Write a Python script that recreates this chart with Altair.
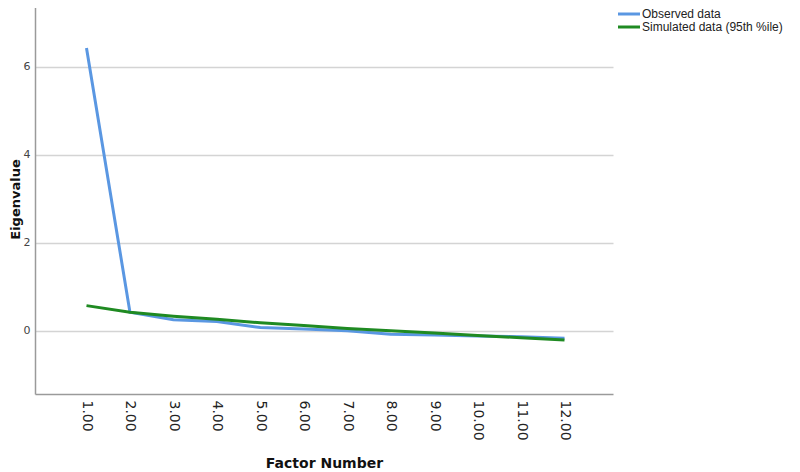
import altair as alt
import pandas as pd

factors = [1, 2, 3, 4, 5, 6, 7, 8, 9, 10, 11, 12]
observed = [6.43, 0.42, 0.25, 0.21, 0.07, 0.04, 0.00, -0.08, -0.10, -0.12, -0.14, -0.17]
simulated = [0.57, 0.42, 0.33, 0.26, 0.18, 0.12, 0.05, 0.00, -0.05, -0.11, -0.16, -0.21]
series_names = ["Observed data", "Simulated data (95th %ile)"]
series_colors = ["#5a97e2", "#1f8a22"]

rows = []
for f, o, s in zip(factors, observed, simulated):
    rows.append({"factor": f, "value": o, "series": series_names[0]})
    rows.append({"factor": f, "value": s, "series": series_names[1]})
df = pd.DataFrame(rows)

chart = alt.Chart(df).mark_line(strokeWidth=3).encode(
    x=alt.X("factor:Q",
            scale=alt.Scale(domain=[-0.185, 13.116], nice=False, zero=False),
            axis=alt.Axis(values=factors, format=".2f", title="Factor Number",
                          labelAngle=90, labelAlign="left", labelBaseline="middle",
                          labelPadding=6, labelFontSize=14, labelColor="#222222",
                          labelFont="DejaVu Sans",
                          ticks=False, grid=False, domainColor="#9a9a9a", domainWidth=1.5,
                          titleFontSize=14, titleFontWeight="bold", titleFont="DejaVu Sans",
                          titleColor="#111111", titleY=69, titleBaseline="middle")),
    y=alt.Y("value:Q",
            scale=alt.Scale(domain=[-1.44, 7.43], nice=False, zero=False),
            axis=alt.Axis(values=[0, 2, 4, 6], title="Eigenvalue",
                          ticks=False, grid=True, gridColor="#d4d4d4", gridWidth=1.5,
                          domainColor="#9a9a9a", domainWidth=1.5,
                          labelFontSize=11, labelColor="#444444", labelPadding=5,
                          labelFont="DejaVu Sans",
                          titleFontSize=13, titleFontWeight="bold", titleFont="DejaVu Sans",
                          titleColor="#111111", titleX=-20, titleBaseline="middle")),
    color=alt.Color("series:N",
                    scale=alt.Scale(domain=series_names, range=series_colors),
                    legend=alt.Legend(title=None, orient="none", legendX=587, legendY=3,
                                      symbolType="M-2,0H2", symbolSize=121,
                                      symbolStrokeWidth=3, symbolFillColor="transparent",
                                      labelFontSize=12,
                                      labelFont="Liberation Sans", labelColor="#222222",
                                      labelOffset=6, rowPadding=-1)),
    order=alt.Order("factor:Q"),
).properties(
    width=578, height=390,
    autosize=alt.AutoSizeParams(type="none"),
    padding={"left": 27, "top": -4, "right": 179, "bottom": 80},
).configure_view(stroke=None)

chart.save("out.html", embed_options={"renderer": "svg", "actions": False})
